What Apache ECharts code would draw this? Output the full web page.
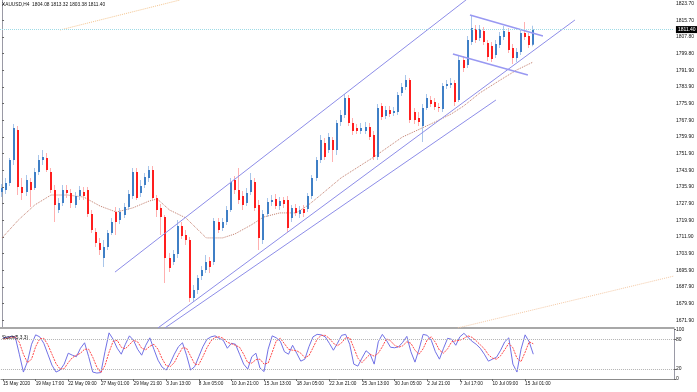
<!DOCTYPE html>
<html><head><meta charset="utf-8">
<script src="https://cdn.jsdelivr.net/npm/echarts@6/dist/echarts.min.js"></script>
<style>html,body{margin:0;padding:0;background:#fff}#c{width:697px;height:392px}</style>
</head><body><div id="c"></div>
<script>
const timeLabels = ['15 May 2020','19 May 17:00','22 May 09:00','27 May 01:00','29 May 21:00','3 Jun 13:00','8 Jun 05:00','10 Jun 21:00','15 Jun 13:00','18 Jun 05:00','22 Jun 21:00','25 Jun 13:00','30 Jun 05:00','2 Jul 21:00','7 Jul 17:00','10 Jul 09:00','15 Jul 01:00'];
const labelStep = 8;
const slotCount = 165;

const opens = [1733.4,1734.4,1737.8,1748.8,1763.2,1735.8,1733.4,1738.2,1735.4,1743.0,
1748.8,1749.8,1743.0,1734.4,1724.8,1728.2,1734.4,1733.0,1727.2,1731.5,
1733.4,1734.4,1722.9,1714.2,1709.0,1701.8,1707.0,1713.8,1723.8,1720.0,
1722.4,1726.2,1731.5,1743.0,1733.0,1736.8,1740.2,1744.0,1730.6,1725.8,
1721.4,1701.8,1699.8,1703.7,1717.1,1712.8,1710.4,1682.6,1686.4,1693.1,
1696.0,1700.3,1699.8,1719.0,1716.2,1719.0,1724.8,1739.2,1734.4,1731.5,
1728.2,1733.4,1738.2,1727.2,1710.4,1722.9,1728.6,1730.1,1726.7,1729.6,
1729.6,1721.0,1725.8,1722.9,1725.3,1725.3,1731.5,1740.2,1748.8,1757.0,
1753.6,1758.4,1753.6,1767.0,1770.4,1778.6,1766.6,1764.2,1762.7,1762.7,
1764.6,1760.8,1750.2,1774.7,1769.9,1772.8,1771.4,1771.8,1781.0,1783.8,
1787.2,1771.8,1769.0,1765.1,1773.8,1777.6,1776.6,1774.2,1773.3,1784.3,
1784.8,1785.8,1777.6,1796.8,1794.4,1805.4,1811.7,1807.4,1810.7,1805.0,
1803.5,1799.2,1804.0,1807.8,1810.2,1802.6,1797.8,1800.6,1809.8,1808.3,
1804.1];
const closes = [1735.4,1737.8,1748.8,1764.2,1735.8,1733.0,1739.2,1734.4,1743.0,1748.8,
1750.2,1744.0,1734.4,1727.2,1728.2,1734.4,1733.0,1728.2,1731.5,1734.4,
1731.5,1722.9,1715.2,1709.0,1705.6,1707.0,1713.8,1719.0,1719.0,1723.8,
1726.2,1732.5,1743.0,1730.6,1736.3,1740.6,1744.0,1730.6,1724.8,1721.4,
1701.8,1697.0,1703.7,1717.1,1712.3,1710.4,1682.6,1686.4,1692.2,1696.0,
1699.8,1697.4,1719.5,1715.2,1719.0,1724.8,1738.2,1734.4,1729.6,1727.2,
1733.0,1739.2,1725.8,1711.4,1722.9,1728.6,1729.6,1726.7,1729.1,1727.7,
1716.2,1725.8,1723.4,1724.8,1723.4,1731.5,1740.2,1748.8,1758.4,1750.2,
1759.8,1753.6,1766.6,1770.4,1778.6,1766.6,1762.7,1762.7,1764.2,1764.6,
1759.8,1750.2,1773.8,1769.4,1772.8,1770.9,1772.3,1780.0,1783.8,1787.2,
1768.0,1768.0,1767.0,1773.8,1778.6,1775.7,1774.2,1773.8,1784.3,1785.3,
1785.8,1776.6,1796.8,1793.0,1806.4,1812.2,1806.4,1811.7,1805.4,1798.2,
1797.3,1804.5,1808.3,1810.7,1801.6,1797.8,1800.6,1809.8,1807.8,1804.0,
1811.4];
const lows = [1731.0,1732.5,1736.3,1746.4,1732.0,1729.6,1731.5,1726.2,1734.4,1741.6,
1746.4,1743.0,1733.0,1719.0,1723.4,1726.7,1730.6,1725.8,1725.8,1729.6,
1729.6,1721.4,1713.8,1707.0,1703.2,1697.4,1705.6,1712.8,1712.8,1718.1,
1721.0,1724.8,1730.1,1729.6,1731.0,1735.4,1738.2,1729.6,1721.4,1712.8,
1689.8,1695.0,1698.4,1701.8,1710.9,1708.0,1680.6,1680.6,1684.5,1691.2,
1694.6,1694.6,1698.4,1713.8,1714.7,1717.6,1723.8,1732.5,1727.7,1724.8,
1726.7,1732.0,1724.3,1705.6,1708.5,1721.4,1726.7,1725.3,1724.8,1725.8,
1714.2,1719.0,1721.9,1721.0,1721.4,1723.8,1730.1,1738.7,1747.4,1748.8,
1752.2,1747.8,1751.2,1765.1,1769.0,1765.1,1760.8,1761.3,1761.3,1761.3,
1758.4,1748.8,1748.8,1768.0,1768.5,1769.4,1769.9,1770.4,1779.5,1782.4,
1766.6,1766.1,1765.1,1757.4,1772.8,1774.2,1772.8,1771.8,1771.8,1782.9,
1783.4,1774.7,1776.6,1791.0,1793.0,1804.0,1805.0,1805.9,1804.0,1796.3,
1795.8,1797.8,1802.6,1806.4,1800.2,1794.9,1795.8,1799.2,1806.4,1802.6,
1803.4];
const highs = [1737.3,1740.2,1749.8,1766.1,1765.1,1740.2,1741.6,1740.2,1745.0,1751.2,
1753.6,1752.2,1745.0,1736.8,1730.6,1736.8,1736.8,1734.9,1733.4,1736.3,
1735.8,1735.8,1724.8,1716.2,1711.4,1710.4,1715.2,1721.0,1726.2,1725.8,
1728.2,1734.4,1745.0,1745.0,1739.2,1742.6,1745.9,1745.9,1732.0,1727.7,
1722.4,1704.2,1705.6,1720.0,1719.0,1715.2,1711.8,1688.8,1693.6,1697.9,
1703.2,1702.2,1721.0,1721.0,1721.0,1726.7,1740.2,1741.1,1745.0,1733.9,
1735.4,1742.6,1740.2,1729.6,1724.8,1730.6,1732.0,1732.5,1731.0,1731.0,
1731.5,1727.2,1727.7,1726.7,1727.2,1733.0,1741.6,1750.2,1760.8,1759.4,
1761.8,1759.8,1768.0,1772.8,1780.5,1780.0,1769.0,1766.1,1766.6,1767.0,
1766.6,1762.7,1775.7,1776.2,1774.7,1774.7,1774.2,1781.4,1785.8,1789.6,
1788.2,1773.8,1771.8,1775.7,1780.5,1779.5,1778.6,1776.2,1785.8,1787.2,
1788.2,1787.2,1798.7,1798.7,1808.3,1818.4,1813.6,1813.6,1812.6,1806.4,
1805.4,1806.4,1810.2,1813.1,1812.2,1804.5,1802.6,1811.2,1815.0,1809.8,
1813.3];

const maIdx = [0,4,8,12,16,20,24,28,32,36,38,41,45,50,54,57,61,64,68,72,75,78,83,91,98,105,110,113,117,122,126,130];
const maVal = [1711.4,1720.0,1727.2,1732.0,1732.0,1731.0,1726.7,1723.8,1725.8,1729.1,1730.1,1724.8,1721.0,1711.4,1711.4,1713.3,1717.6,1721.4,1723.4,1723.4,1727.2,1732.0,1740.2,1750.2,1759.8,1766.1,1770.9,1774.7,1781.0,1787.2,1792.0,1795.8];

const stochK = [83,84,86,85,50,14,35,70,89,85,72,50,28,14,18,30,52,48,45,62,73,45,14,12,13,55,93,80,62,50,70,87,78,60,48,68,83,60,38,24,18,32,50,65,73,48,18,25,45,65,80,85,87,82,78,62,72,70,50,30,20,45,52,22,15,60,87,83,76,55,50,68,52,36,40,65,85,90,89,85,72,58,72,88,90,70,30,26,42,57,50,30,75,90,78,64,63,65,74,86,55,34,60,90,88,78,55,40,62,82,80,68,85,92,84,76,70,62,50,36,40,44,58,75,83,30,14,60,89,75,50];
const stochD = [80,82,84,85,74,50,33,40,65,81,82,69,50,31,20,21,33,43,48,52,60,60,44,24,13,27,54,76,78,64,61,69,78,75,62,59,66,70,60,41,27,25,33,49,63,62,46,30,29,45,63,77,84,85,82,74,71,68,64,50,33,32,39,40,30,32,54,77,82,71,60,58,57,52,43,47,63,80,88,88,82,72,67,73,83,83,63,42,33,42,50,46,52,65,81,77,68,64,67,75,72,58,50,61,79,85,74,58,52,61,75,77,78,82,87,84,77,69,61,49,42,40,47,59,72,63,42,35,54,75,71];

const priceTicks = [1823.70,1815.70,1807.80,1799.80,1791.90,1783.90,1775.90,1767.90,1759.90,1751.90,1743.90,1735.90,1727.90,1719.90,1711.90,1703.90,1695.90,1687.90,1679.90,1671.90];
const stochTicks = [100,80,20,0];
const stochLevels = [80,20];
const lastPrice = 1811.40;
const header = 'XAUUSD,H4  1804.08 1813.32 1803.38 1811.40';

// trend lines as [[index, price],[index, price]]
const channelUpper = [[27.65,1695.0],[114.56,1827.1]];
const supportLong = [[38.18,1668.2],[140.26,1816.0]];
const supportShort = [[39.89,1668.2],[120.92,1777.6]];
const flagUpper = [[114.56,1818.4],[132.43,1808.3]];
const flagLower = [[110.39,1799.7],[128.75,1789.6]];
const faintTop = [[14.19,1811.2],[43.56,1825.6]];
const faintBottom = [[111.6,1668.2],[164.5,1693.1]];

const categories = Array.from({length: slotCount}, (_, i) =>
  (i % labelStep === 0 && timeLabels[i / labelStep]) ? timeLabels[i / labelStep] : '');
const candleData = opens.map((o, i) => [i, o, closes[i], lows[i], highs[i]]);
const showTick = (idx) => idx % labelStep === 0 && !!timeLabels[idx / labelStep];

const FONT = 'Liberation Sans, Arial, sans-serif';
const chart = echarts.init(document.getElementById('c'), null, {renderer: 'canvas'});

function lineSeries(data, color, width, type, z) {
  return {type: 'line', xAxisIndex: 0, yAxisIndex: 0, data: data, showSymbol: false, symbol: 'none',
    silent: true, clip: true, z: z || 2, animation: false,
    lineStyle: {color: color, width: width, type: type || 'solid'}};
}

chart.setOption({
  animation: false,
  backgroundColor: '#ffffff',
  textStyle: {fontFamily: FONT},
  grid: [
    {left: 0, right: 23, top: 0, height: 328},
    {left: 0, right: 23, top: 329.4, height: 49.6}
  ],
  xAxis: [
    {type: 'value', gridIndex: 0, min: -0.5, max: slotCount - 0.5,
      axisLine: {show: true, onZero: false, lineStyle: {color: '#a8a8a8', width: 2}},
      axisTick: {show: false}, axisLabel: {show: false}, splitLine: {show: false}},
    {type: 'category', gridIndex: 1, data: categories, boundaryGap: true,
      axisLine: {show: true, lineStyle: {color: '#8c8c8c', width: 1}},
      axisTick: {show: true, alignWithLabel: true, interval: showTick, length: 2, lineStyle: {color: '#666'}},
      axisLabel: {show: true, interval: showTick, hideOverlap: false, align: 'left', margin: 2,
        fontSize: 4.7, color: '#111', fontFamily: FONT},
      splitLine: {show: false}}
  ],
  yAxis: [
    {type: 'value', gridIndex: 0, position: 'right', min: 1668.16, max: 1825.6, scale: true,
      axisLine: {show: true, lineStyle: {color: '#9a9aa6'}},
      axisTick: {show: true, length: 2, customValues: priceTicks, lineStyle: {color: '#666'}},
      axisLabel: {show: true, customValues: priceTicks, formatter: v => Number(v).toFixed(2),
        fontSize: 5, margin: 2, color: '#111', fontFamily: FONT},
      splitLine: {show: false}},
    {type: 'value', gridIndex: 1, position: 'right', min: 0, max: 100,
      axisLine: {show: true, lineStyle: {color: '#9a9aa6'}},
      axisTick: {show: true, length: 2, customValues: stochTicks, lineStyle: {color: '#666'}},
      axisLabel: {show: true, customValues: stochTicks, fontSize: 5, margin: 2, color: '#111', fontFamily: FONT},
      splitLine: {show: false}}
  ],
  graphic: [
    {type: 'text', left: 2, top: 2, z: 100, style: {text: header, fontSize: 4.8, fill: '#111', fontFamily: FONT}},
    {type: 'text', left: 2, top: 335, z: 100, style: {text: 'Stoch(5,3,3)', fontSize: 4.8, fill: '#111', fontFamily: FONT}}
  ],
  series: [
    lineSeries(faintTop, '#f3c48e', 1, 'dotted', 1),
    lineSeries(faintBottom, '#f3c8a4', 1, 'dotted', 1),
    Object.assign(lineSeries(maIdx.map((x, k) => [x, maVal[k]]), '#c27d6c', 1, 'dotted', 2), {
      markLine: {silent: true, symbol: 'none', animation: false,
        lineStyle: {color: '#9edbe6', type: 'dotted', width: 1},
        label: {show: true, position: 'end', distance: 2, formatter: () => lastPrice.toFixed(2),
          backgroundColor: '#000', color: '#fff', fontSize: 5, padding: [1, 2, 1, 2], fontFamily: FONT},
        data: [{yAxis: lastPrice}]}
    }),
    lineSeries(channelUpper, '#8d8de8', 1, 'solid', 4),
    lineSeries(supportLong, '#8d8de8', 1, 'solid', 4),
    lineSeries(supportShort, '#8d8de8', 1, 'solid', 4),
    lineSeries(flagUpper, '#9898f2', 1.5, 'solid', 4),
    lineSeries(flagLower, '#9898f2', 1.5, 'solid', 4),
    {
      type: 'custom', xAxisIndex: 0, yAxisIndex: 0, data: candleData, clip: true, z: 3,
      encode: {x: 0, y: [1, 2, 3, 4]},
      renderItem: function (params, api) {
        const i = api.value(0), o = api.value(1), c = api.value(2), l = api.value(3), h = api.value(4);
        const pO = api.coord([i, o]), pC = api.coord([i, c]);
        const pL = api.coord([i, l]), pH = api.coord([i, h]);
        const bull = c >= o;
        const x = Math.round(pO[0]) - 1;
        const top = Math.min(pO[1], pC[1]), bot = Math.max(pO[1], pC[1]);
        return {type: 'group', children: [
          {type: 'rect', shape: {x: x, y: pH[1], width: 1, height: Math.max(1, pL[1] - pH[1])},
            style: {fill: bull ? '#a9c6ea' : '#ffb0b0'}},
          {type: 'rect', shape: {x: x, y: top, width: 2, height: Math.max(1, bot - top)},
            style: {fill: bull ? '#3f7fc6' : '#ff1e1e'}}
        ]};
      }
    },
    {type: 'line', xAxisIndex: 1, yAxisIndex: 1, data: stochK, showSymbol: false, symbol: 'none', silent: true,
      lineStyle: {color: '#7272e6', width: 1}, z: 3,
      markLine: {silent: true, symbol: 'none', animation: false, label: {show: false},
        lineStyle: {color: '#b4b4b4', type: 'dotted', width: 1},
        data: stochLevels.map(v => ({yAxis: v}))}},
    {type: 'line', xAxisIndex: 1, yAxisIndex: 1, data: stochD, showSymbol: false, symbol: 'none', silent: true,
      lineStyle: {color: '#ff4a4a', width: 1, type: [2, 1]}, z: 4}
  ]
});
</script></body></html>
